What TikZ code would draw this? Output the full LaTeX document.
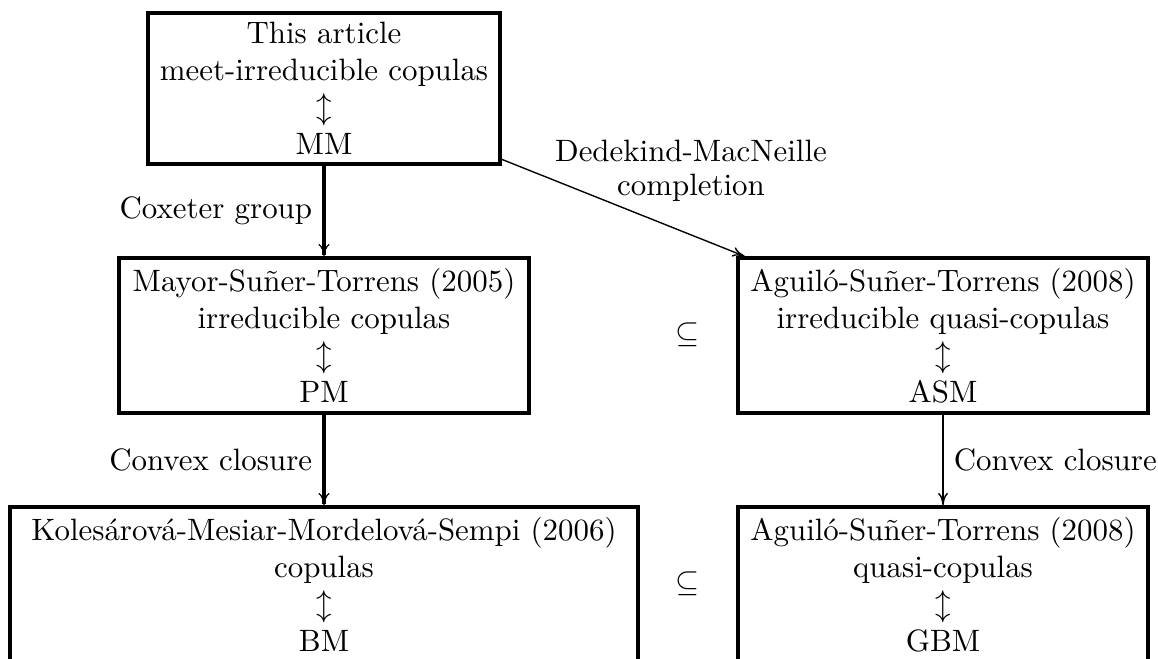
\documentclass[tikz,border=0pt]{standalone}
\usepackage{fontspec}
\usetikzlibrary{arrows.meta}
\newcommand\pxu{0.3236}
\tikzset{
  box/.style={draw, line width=1.1pt, align=center, inner sep=2pt, minimum height=155*\pxu pt},
  thickarr/.style={line width=1.1pt, -{Computer Modern Rightarrow[length=4pt,width=3.6pt,line width=0.4pt]}},
  thinarr/.style={line width=0.45pt, -{Computer Modern Rightarrow[length=4pt,width=3.2pt]}},
  lab/.style={inner sep=3.3pt}
}
\begin{document}
\begin{tikzpicture}[x=\pxu pt, y=-\pxu pt]
\useasboundingbox (0,0) rectangle (1158,658);
\clip (0,0) rectangle (1158,658);
\node[box, minimum width=352*\pxu pt, minimum height=151*\pxu pt] (top) at (324,88.5)
  {This article\\meet-irreducible copulas\\$\updownarrow$\\MM};
\node[box, minimum width=410*\pxu pt] (lmid) at (324,335.5)
  {Mayor-Suñer-Torrens (2005)\\irreducible copulas\\$\updownarrow$\\PM};
\node[box, minimum width=410*\pxu pt] (rmid) at (943,335.5)
  {Aguiló-Suñer-Torrens (2008)\\irreducible quasi-copulas\\$\updownarrow$\\ASM};
\node[box, minimum width=628*\pxu pt] (bl) at (324,584.5)
  {Kolesárová-Mesiar-Mordelová-Sempi (2006)\\copulas\\$\updownarrow$\\BM};
\node[box, minimum width=410*\pxu pt] (br) at (943,584.5)
  {Aguiló-Suñer-Torrens (2008)\\quasi-copulas\\$\updownarrow$\\GBM};
\draw[thickarr] (top) -- node[left, lab] (lcox) {Coxeter group} (lmid);
\draw[thinarr] (top) -- (rmid);
\node[align=center, inner sep=0pt] (dm) at (691,171) {Dedekind-MacNeille\\[-1pt]completion};
\draw[thickarr] (lmid) -- node[left, lab] (lcc) {Convex closure} (bl);
\draw[thinarr] (rmid) -- node[right, lab] (rcc) {Convex closure} (br);
\node (s1) at (688,335) {$\subseteq$};
\node (s2) at (688,584) {$\subseteq$};
\end{tikzpicture}
\end{document}
